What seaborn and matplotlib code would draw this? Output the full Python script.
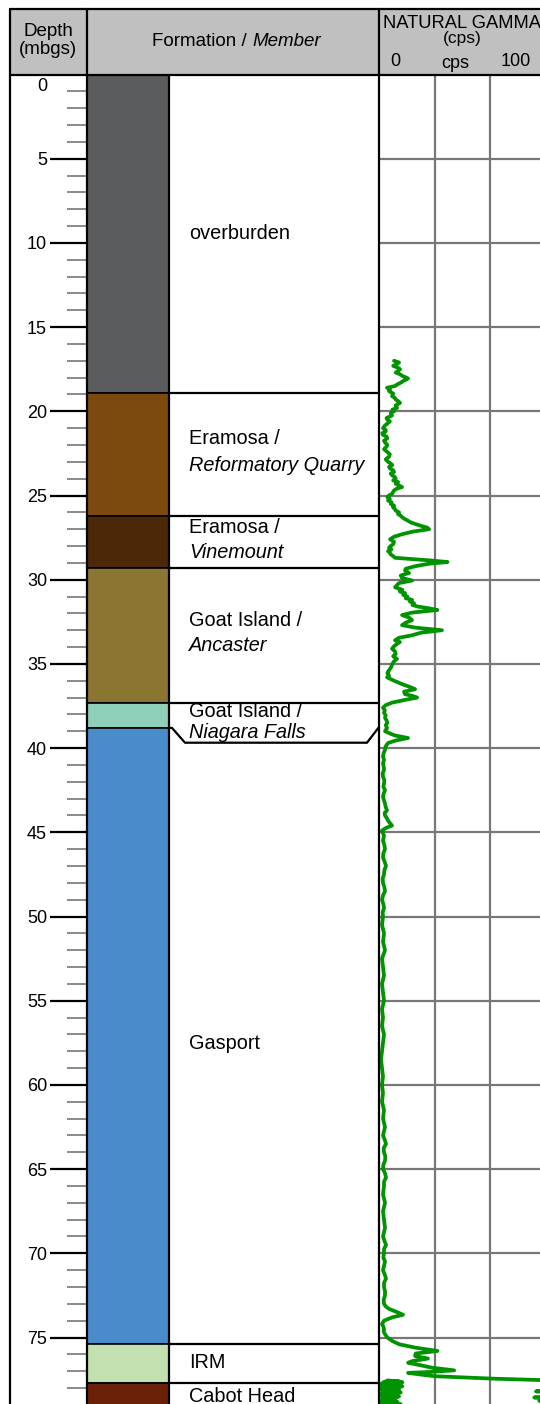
import numpy as np
import matplotlib
matplotlib.use("Agg")
import matplotlib.pyplot as plt
import seaborn as sns
from matplotlib.patches import Rectangle

# ---------------- data ----------------
unit_top = [0.0, 18.9, 26.2, 29.3, 37.3, 38.8, 75.4, 77.7]
unit_bottom = [18.9, 26.2, 29.3, 37.3, 38.8, 75.4, 77.7, 79.5]
unit_colors = ["#5b5c5e", "#7c4a0e", "#4a2808", "#8b7533", "#8ecfb9",
               "#4a8bca", "#c2e0b0", "#6b2108"]

label_depth = [9.77, 21.94, 23.55, 27.23, 28.71, 32.75, 34.24, 38.15, 39.40,
               57.87, 76.8, 78.83]
label_text = ["overburden", "Eramosa /", "Reformatory Quarry", "Eramosa /",
              "Vinemount", "Goat Island /", "Ancaster", "Goat Island /",
              "Niagara Falls", "Gasport", "IRM", "Cabot Head"]
label_italic = [False, False, True, False, True, False, True, False, True,
                False, False, False]

depth_major = list(range(5, 80, 5))
depth_minor = [d for d in range(1, 79) if d % 5 != 0]
grid_depths = list(range(5, 80, 5))
gamma_grid = [33.33, 66.67]

gamma_depth = [
    17.0, 17.1, 17.2, 17.3, 17.4, 17.5, 17.6, 17.7, 17.8, 17.9, 18.05, 18.2,
    18.3, 18.4, 18.5, 18.6, 18.7, 18.8, 18.95, 19.1, 19.2, 19.3, 19.4, 19.5,
    19.65, 19.8, 19.9, 20.0, 20.1, 20.25, 20.4, 20.5, 20.6, 20.7, 20.85, 21.0,
    21.1, 21.2, 21.3, 21.4, 21.5, 21.6, 21.75, 21.85, 22.0, 22.1, 22.25, 22.4,
    22.55, 22.7, 22.85, 23.0, 23.1, 23.2, 23.3, 23.4, 23.5, 23.6, 23.7, 23.8,
    23.9, 24.0, 24.1, 24.2,
    24.3, 24.4, 24.5, 24.6, 24.7, 24.9, 25.0, 25.1, 25.2, 25.3, 25.4, 25.5,
    25.6, 25.7, 25.8, 25.9, 26.0, 26.1, 26.2, 26.3, 26.4, 26.5, 26.6, 26.7,
    26.8, 26.9, 27.0, 27.15, 27.3, 27.45, 27.6, 27.75, 27.9, 28.0, 28.1, 28.2,
    28.3, 28.4, 28.5, 28.6, 28.7, 28.85, 28.95, 29.05, 29.2, 29.35, 29.45,
    29.6, 29.75, 29.9, 30.05, 30.2, 30.3, 30.45, 30.6, 30.7, 30.8, 30.9, 31.0,
    31.1, 31.2, 31.3, 31.4, 31.5, 31.6,
    31.7, 31.8, 31.95, 32.1, 32.25, 32.4, 32.55, 32.7, 32.85, 33.0, 33.15,
    33.3, 33.45, 33.6, 33.7, 33.8, 33.95, 34.1, 34.25, 34.4, 34.55, 34.7,
    34.85, 35.0, 35.15, 35.3, 35.45, 35.55, 35.7, 35.8, 35.9, 36.0, 36.1,
    36.2, 36.35, 36.5, 36.65, 36.8, 36.9, 37.0, 37.15, 37.3, 37.45, 37.6,
    37.75, 37.9, 38.05, 38.2, 38.35, 38.5, 38.65, 38.8,
    39.0, 39.15, 39.25, 39.4, 39.55, 39.7, 39.9, 40.1, 40.3, 40.5, 40.7,
    40.9, 41.1, 41.3, 41.5, 41.7, 41.9, 42.1, 42.3, 42.5, 42.7, 42.9, 43.1,
    43.3, 43.5, 43.7, 43.85, 44.0, 44.15, 44.3, 44.45, 44.6, 44.75, 44.9,
    45.2,
    45.5, 45.75, 46.0, 46.25, 46.5, 46.75, 47.0, 47.25, 47.5, 47.75, 48.0,
    48.25, 48.5, 48.75, 49.0, 49.25, 49.5, 49.75, 50.0, 50.5, 51.0,
    51.5, 52.0, 52.5, 53.0, 53.5, 54.0, 54.5, 55.0, 55.5, 56.0, 56.5, 57.0,
    57.5, 58.0, 58.5, 59.0, 59.5, 60.0, 60.5, 61.0, 61.5, 62.0, 62.5, 63.0,
    63.25, 63.5, 63.75, 64.0, 64.25, 64.5, 64.75, 65.0, 65.25, 65.5, 65.75,
    66.0, 66.5, 67.0, 67.5, 68.0, 68.5, 69.0, 69.25, 69.5, 69.75, 70.0,
    70.25, 70.5, 70.75, 71.0, 71.25, 71.5, 71.75, 72.0, 72.25, 72.5, 72.75,
    73.0, 73.15, 73.3, 73.5, 73.65, 73.8, 74.0, 74.2, 74.35, 74.5, 74.65,
    74.8, 75.0, 75.2, 75.4, 75.6, 75.8, 75.95, 76.1, 76.25,
    76.4, 76.5, 76.65, 76.8, 76.95, 77.05, 77.1, 77.2, 77.3, 77.45, 77.55,
    77.6, 77.63, 77.66, 77.7, 77.73, 77.76, 77.8, 77.83, 77.86, 77.9, 77.93,
    77.96, 78.0, 78.03, 78.06, 78.1, 78.13, 78.16, 78.2, 78.23, 78.26, 78.3,
    78.33, 78.36, 78.4, 78.43, 78.46, 78.5, 78.53, 78.56, 78.6, 78.63, 78.66,
    78.7, 78.73, 78.76, 78.8, 78.83, 78.86, 78.9, 78.93, 78.96, 79.0,
]
gamma_cps = [
    9.0, 12.0, 10.5, 8.5, 11.0, 12.6, 11.5, 10.0, 12.5, 14.0, 17.4, 14.5,
    13.0, 11.0, 9.6, 4.8, 6.5, 6.0, 8.5, 7.8, 9.5, 10.0, 11.5, 12.6,
    10.0, 10.8, 8.0, 9.0, 7.0, 7.8, 4.5, 5.0, 6.5, 5.4, 3.5, 2.4,
    4.0, 4.0, 2.0, 2.4, 4.5, 5.0, 3.0, 3.6, 5.0, 4.5, 3.0, 4.8,
    6.5, 6.0, 4.0, 5.4, 7.0, 8.0, 6.0, 6.6, 8.5, 9.0, 7.0, 7.8,
    9.5, 10.0, 8.5, 11.4,
    10.0, 12.0, 13.8, 10.5, 9.0, 7.8, 6.0, 5.0, 6.5, 5.4, 7.5, 7.0,
    9.0, 8.4, 9.5, 10.0, 12.0, 11.4, 13.0, 14.0, 15.5, 17.4, 19.0, 22.0,
    25.0, 28.7, 30.0, 20.0, 13.8, 9.0, 6.6, 9.0, 8.4, 7.0, 6.0, 7.5,
    5.4, 6.5, 7.0, 8.5, 9.6, 30.0, 41.0, 30.0, 21.6, 16.0, 15.6,
    18.0, 13.0, 13.8, 19.8, 12.0, 11.0, 9.6, 14.0, 12.5, 15.6, 14.5, 17.0,
    16.0, 19.8, 18.5, 21.0, 20.0, 23.4,
    30.0, 35.0, 20.0, 13.8, 18.0, 19.8, 16.0, 13.8, 22.0, 37.7, 25.0,
    19.8, 12.0, 9.6, 12.5, 11.0, 9.0, 7.8, 9.5, 10.0, 8.5, 10.8,
    9.0, 8.0, 7.5, 6.6, 5.5, 5.0, 6.0, 4.8, 7.0, 9.0, 11.5,
    13.8, 18.0, 21.6, 15.0, 15.6, 20.0, 22.8, 15.0, 7.8, 4.0, 2.4,
    3.5, 3.0, 4.0, 3.6, 4.5, 5.0, 4.0, 4.8,
    3.6, 7.0, 9.6, 17.4, 10.0, 5.4, 4.0, 3.6, 2.8, 2.4, 3.0,
    2.4, 2.8, 3.0, 2.2, 2.4, 3.2, 3.0, 2.6, 3.6, 2.8, 2.4, 3.0,
    3.6, 4.0, 4.8, 3.4, 3.6, 4.6, 5.4, 6.5, 7.8, 4.0, 1.8,
    3.0,
    2.4, 3.2, 3.6, 2.6, 2.4, 3.4, 4.2, 3.2, 3.0, 2.2, 2.4,
    3.2, 3.6, 2.4, 1.8, 2.6, 3.0, 2.2, 2.4, 1.8, 3.0,
    2.4, 3.6, 1.8, 2.4, 3.0, 1.8, 2.4, 3.0, 1.8, 2.4, 1.8, 3.0,
    2.4, 1.8, 1.2, 1.8, 2.4, 1.8, 2.4, 1.8, 3.0, 2.4, 3.6, 2.4,
    3.4, 4.2, 2.8, 3.0, 3.8, 3.6, 2.6, 2.4, 3.6, 4.2, 3.0,
    3.0, 2.4, 3.6, 2.4, 3.0, 3.6, 2.4, 3.2, 4.2, 3.0, 3.0,
    2.6, 3.6, 3.0, 2.4, 3.4, 4.2, 3.0, 3.0, 3.6, 3.6, 2.8,
    3.0, 4.0, 6.0, 11.0, 14.4, 8.0, 3.0, 1.8, 2.6, 3.0, 2.8,
    3.6, 5.0, 7.8, 12.0, 21.6, 35.0, 22.0, 21.6, 29.3,
    20.0, 17.4, 25.0, 32.0, 45.0, 30.0, 17.4, 25.0, 33.5, 70.0, 105.0,
    112.0, 103.0, 114.0, 104.0, 101.5, 113.0, 102.0, 109.0, 101.0, 114.0, 103.0,
    101.0, 110.0, 102.0, 112.0, 101.5, 108.0, 102.0, 94.0, 104.0, 113.0, 102.0,
    111.0, 101.0, 109.0, 103.0, 101.5, 112.0, 102.0, 93.0, 103.0, 110.0, 102.0,
    108.0, 101.0, 96.0, 104.0, 111.0, 102.0, 107.0, 101.5, 113.0, 101.0,
]

# ---------------- layout ----------------
W, H = 540, 1404
Y0 = 74.5                 # pixel row of depth 0
PX_PER_M = 16.84
DMAX = (H - Y0) / PX_PER_M

sns.set_style("white")
plt.rcParams["font.family"] = ["Liberation Sans", "DejaVu Sans"]
plt.rcParams["text.color"] = "black"
plt.rcParams["ytick.labelcolor"] = "black"
plt.rcParams["xtick.labelcolor"] = "black"

fig = plt.figure(figsize=(W / 100, H / 100), dpi=100)
fig.patch.set_facecolor("white")

def fx(px):
    return px / W

ax_h = (H - Y0) / H
ax_lith = fig.add_axes([fx(87), 0, fx(379 - 87), ax_h])
ax_gam = fig.add_axes([fx(379), 0, fx(167), ax_h])
over = fig.add_axes([0, 0, 1, 1], zorder=5)
over.set_xlim(0, W)
over.set_ylim(H, 0)
over.axis("off")
over.patch.set_alpha(0)

# ---------- lithology column ----------
BAR_W = (169 - 87) / (379 - 87)
TEXT_X = (189 - 87) / (379 - 87)
thick = [b - t for t, b in zip(unit_top, unit_bottom)]
ax_lith.bar([0] * len(unit_top), thick, bottom=unit_top, width=BAR_W,
            align="edge", color=unit_colors, edgecolor="black", linewidth=1.2,
            zorder=2)
ax_lith.set_xlim(0, 1)
ax_lith.set_ylim(DMAX, 0)
for s in ax_lith.spines.values():
    s.set_visible(False)
ax_lith.set_xticks([])

for t in [18.9, 26.2, 29.3, 37.3, 75.4, 77.7]:
    ax_lith.plot([BAR_W, 1], [t, t], color="black", lw=1.6, zorder=3,
                 solid_capstyle="butt")
nf_x = [BAR_W, (172 - 87) / 292, (185 - 87) / 292, (367 - 87) / 292, 1.0]
nf_y = [38.8, 38.8, 39.68, 39.68, 38.75]
ax_lith.plot(nf_x, nf_y, color="black", lw=1.6, zorder=3)

for d, txt, it in zip(label_depth, label_text, label_italic):
    ax_lith.text(TEXT_X, d, txt, ha="left", va="baseline", fontsize=14.3,
                 color="black", style="italic" if it else "normal", zorder=4)

ax_lith.set_yticks(depth_major)
ax_lith.set_yticklabels([str(d) for d in depth_major])
ax_lith.set_yticks(depth_minor, minor=True)
ax_lith.tick_params(axis="y", which="major", left=True, direction="out",
                    length=26.6, width=1.6, color="black", pad=2.2,
                    labelsize=13, labelcolor="black")
ax_lith.tick_params(axis="y", which="minor", left=True, direction="out",
                    length=14.4, width=1.4, color="#8a8a8a")
ax_lith.text(-(87 - 47) / 292, 0.7, "0", ha="right", va="center",
             fontsize=13, color="black",
             transform=ax_lith.get_yaxis_transform(), clip_on=False)

# ---------- gamma track ----------
ax_gam.set_xlim(0, 100)
ax_gam.set_ylim(DMAX, 0)
ax_gam.set_xticks(gamma_grid)
ax_gam.set_yticks(grid_depths)
ax_gam.grid(True, color="#777777", lw=1.6, zorder=0)
ax_gam.tick_params(left=False, bottom=False, labelleft=False,
                   labelbottom=False)
for s in ax_gam.spines.values():
    s.set_visible(False)
ax_gam.set_axisbelow(True)

sns.lineplot(x=gamma_cps, y=gamma_depth, orient="y", sort=False,
             estimator=None, ax=ax_gam, color="#009400", lw=2.7,
             legend=False, zorder=3)
g_arr = np.array(gamma_cps)
backup = np.where(g_arr >= 100, g_arr - 100, np.nan)
ax_gam.plot(backup, gamma_depth, color="#009400", lw=2.7, zorder=3)
ax_gam.set_xlabel("")
ax_gam.set_ylabel("")

# ---------- header & frame ----------
over.add_patch(Rectangle((10, 9), W - 10, 66, facecolor="#c0c0c0",
                         edgecolor="none", zorder=1))
LW = 1.6
over.plot([10, W], [9, 9], color="black", lw=LW, zorder=3)
over.plot([10, W], [75, 75], color="black", lw=LW, zorder=3)
for x in [10, 87, 379]:
    over.plot([x, x], [9, H], color="black", lw=LW, zorder=3)
over.plot([169, 169], [75, H], color="black", lw=LW, zorder=3)

hdr = dict(ha="center", va="center", color="black")
over.text(48, 31, "Depth", fontsize=13.5, **hdr)
over.text(48, 50, "(mbgs)", fontsize=13.5, **hdr)
over.text(247, 41, "Formation /", ha="right", va="center", fontsize=13.5,
          color="black")
over.text(252, 41, "Member", ha="left", va="center", fontsize=13.5,
          style="italic", color="black")
over.text(462, 23, "NATURAL GAMMA", fontsize=13.2, **hdr)
over.text(462, 38, "(cps)", fontsize=12.5, **hdr)
over.text(395, 62, "0", fontsize=13, **hdr)
over.text(455, 63, "cps", fontsize=13, **hdr)
over.text(516, 62, "100", fontsize=13, **hdr)

fig.savefig("out.png", dpi=100)
